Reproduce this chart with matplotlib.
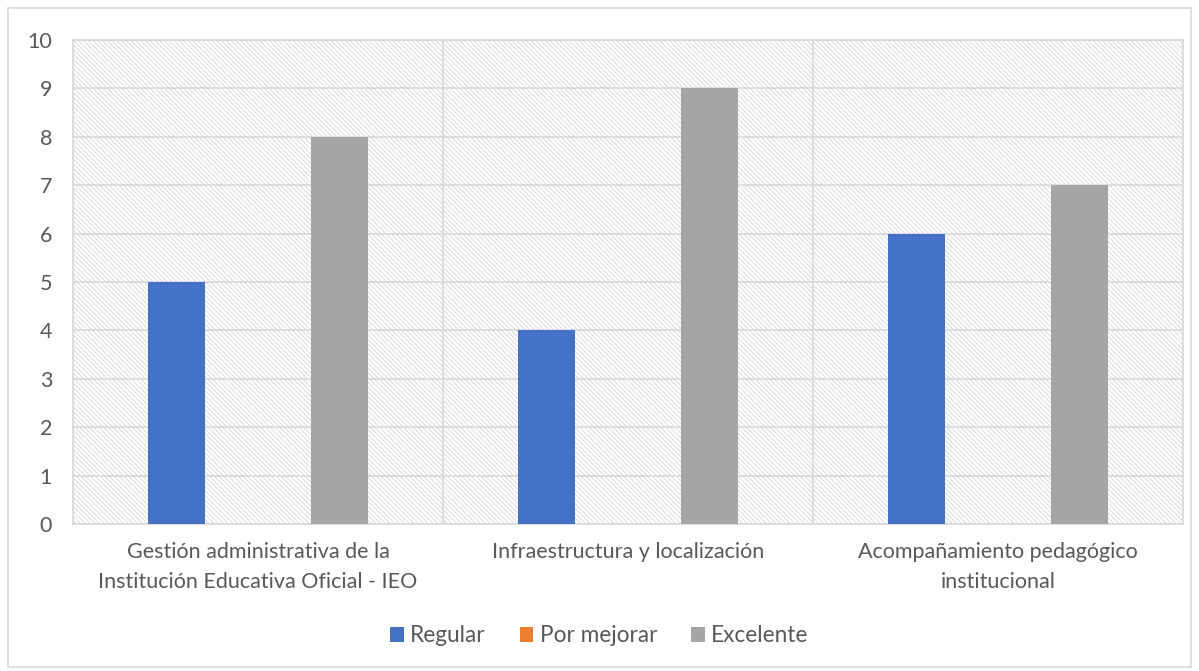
import matplotlib.pyplot as plt
import numpy as np
from matplotlib.patches import Rectangle

categories = ["Gestión administrativa de la\nInstitución Educativa Oficial - IEO",
              "Infraestructura y localización",
              "Acompañamiento pedagógico\ninstitucional"]
series = ["Regular", "Por mejorar", "Excelente"]
values = {
    "Regular": [5, 4, 6],
    "Por mejorar": [0, 0, 0],
    "Excelente": [8, 9, 7],
}
colors = {"Regular": "#4472C4", "Por mejorar": "#ED7D31", "Excelente": "#A5A5A5"}
yticks = list(range(0, 11))

plt.rcParams["font.family"] = ["Lato", "DejaVu Sans"]
plt.rcParams["hatch.linewidth"] = 0.6
txt = "#595959"
grid = "#D9D9D9"

fig = plt.figure(figsize=(11.99, 6.71), dpi=100)
ax = fig.add_axes([73 / 1199, 1 - 524 / 671, 1110 / 1199, 484 / 671])

# hatched plot-area background
ax.add_patch(Rectangle((0, 0), 1, 1, transform=ax.transAxes, facecolor="white",
                       edgecolor="#D4D4D4", hatch="\\" * 7, lw=0, zorder=0))

x = np.arange(len(categories))
step, width = 0.219, 0.154
for i, s in enumerate(series):
    ax.bar(x + (i - 1) * step, values[s], width, color=colors[s], label=s, zorder=3)

ax.set_xlim(-0.5, len(categories) - 0.5)
ax.set_ylim(0, 10)
ax.set_yticks(yticks)
for t in yticks:
    ax.axhline(t, color=grid, lw=1.2, zorder=1)
for b in np.arange(-0.5, len(categories), 1.0):
    ax.axvline(b, color=grid, lw=1.2, zorder=1)
ax.set_xticks(x)
ax.set_xticklabels(categories, linespacing=1.6, fontsize=16.2)
ax.tick_params(axis="both", length=0, colors=txt, labelsize=15.5)
ax.tick_params(axis="x", pad=13)
ax.tick_params(axis="y", pad=15)
for sp in ax.spines.values():
    sp.set_color(grid)
    sp.set_linewidth(1.2)

leg = fig.legend(loc="center", bbox_to_anchor=(0.5, 1 - 636 / 671), ncol=3, frameon=False,
                 fontsize=16.3, handlelength=0.6, handleheight=0.6, columnspacing=1.5,
                 handletextpad=0.28)
for t in leg.get_texts():
    t.set_color(txt)

fig.patches.append(Rectangle((8 / 1199, 4 / 671), 1183 / 1199, 659 / 671,
                             transform=fig.transFigure, fill=False,
                             edgecolor=grid, lw=1.2))

plt.savefig("out.png", dpi=100)
